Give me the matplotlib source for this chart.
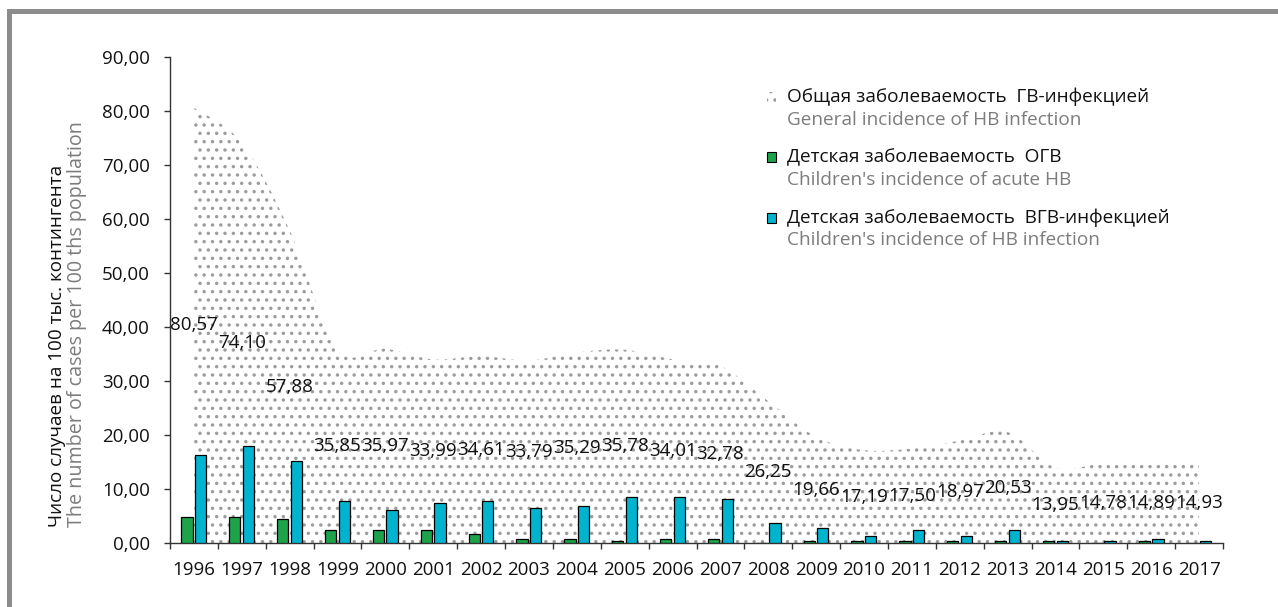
import numpy as np
import matplotlib
matplotlib.use("Agg")
import matplotlib.pyplot as plt
from matplotlib.path import Path
from matplotlib.patches import PathPatch, Rectangle

# ---------------- data ----------------
years = [str(y) for y in range(1996, 2018)]
total_incidence = [80.57, 74.10, 57.88, 35.85, 35.97, 33.99, 34.61, 33.79, 35.29, 35.78, 34.01,
                   32.78, 26.25, 19.66, 17.19, 17.50, 18.97, 20.53, 13.95, 14.78, 14.89, 14.93]
children_acute = [4.87, 4.87, 4.44, 2.35, 2.35, 2.35, 1.60, 0.74, 0.74, 0.30, 0.74,
                  0.74, 0.00, 0.30, 0.30, 0.30, 0.30, 0.30, 0.30, 0.00, 0.30, 0.00]
children_hb = [16.35, 18.00, 15.20, 7.70, 6.10, 7.35, 7.70, 6.50, 6.90, 8.60, 8.60,
               8.15, 3.65, 2.85, 1.25, 2.35, 1.25, 2.35, 0.30, 0.30, 0.75, 0.30]
y_ticks = [0, 10, 20, 30, 40, 50, 60, 70, 80, 90]

ylabel_ru = "Число случаев на 100 тыс. контингента"
ylabel_en = "The number of cases per 100 ths population"
legend_items = [
    ("Общая заболеваемость  ГВ-инфекцией", "General incidence of HB infection"),
    ("Детская заболеваемость  ОГВ", "Children's incidence of acute HB"),
    ("Детская заболеваемость  ВГВ-инфекцией", "Children's incidence of HB infection"),
]

# ---------------- style ----------------
plt.rcParams["font.family"] = ["Open Sans", "DejaVu Sans"]
plt.rcParams["hatch.linewidth"] = 1.25
GREEN = "#1ea34a"
BLUE = "#00b4cf"
DOT = "#9c9c9c"
GRAY_TXT = "#7c7c7c"
W, H = 1278, 607

fig = plt.figure(figsize=(W / 100, H / 100), dpi=100)
ax = fig.add_axes([170 / W, 1 - 543 / H, (1223 - 170) / W, (543 - 57) / H])

x = np.arange(len(years))


def smooth_area_path(xs, ys):
    pts = np.column_stack([xs, ys]).astype(float)
    n = len(pts)
    verts = [pts[0]]
    codes = [Path.MOVETO]
    for i in range(n - 1):
        p0 = pts[i - 1] if i > 0 else pts[i]
        p1 = pts[i]
        p2 = pts[i + 1]
        p3 = pts[i + 2] if i + 2 < n else pts[i + 1]
        c1 = p1 + (p2 - p0) / 6.0
        c2 = p2 - (p3 - p1) / 6.0
        verts += [c1, c2, p2]
        codes += [Path.CURVE4] * 3
    verts += [(xs[-1], 0.0), (xs[0], 0.0), pts[0]]
    codes += [Path.LINETO, Path.LINETO, Path.CLOSEPOLY]
    return Path(np.array(verts), codes)


area = PathPatch(smooth_area_path(x, total_incidence), facecolor="none",
                 edgecolor=DOT, linewidth=0, hatch="..", zorder=1)
ax.add_patch(area)

bw = 0.235
ax.bar(x - 0.145, children_acute, width=bw, color=GREEN, edgecolor="black",
       linewidth=0.9, zorder=3)
ax.bar(x + 0.14, children_hb, width=bw, color=BLUE, edgecolor="black",
       linewidth=0.9, zorder=3)

for xi, v in zip(x, total_incidence):
    ax.text(xi, v / 2, f"{v:.2f}".replace(".", ","), ha="center", va="center",
            fontsize=13.5, color="#111111", zorder=4)

ax.set_xlim(-0.5, len(years) - 0.5)
ax.set_ylim(0, 90)
ax.set_yticks(y_ticks)
ax.set_yticklabels([f"{t:.2f}".replace(".", ",") for t in y_ticks])
ax.set_xticks(x)
ax.set_xticklabels(years)
ax.set_xticks(np.arange(len(years) + 1) - 0.5, minor=True)
ax.tick_params(axis="x", which="major", length=0, pad=13, labelsize=13.5, labelcolor="#111111")
ax.tick_params(axis="x", which="minor", length=4, width=1, direction="out", color="#333333")
ax.tick_params(axis="y", length=4, width=1, direction="out", pad=10.5, labelsize=13.5,
               color="#333333", labelcolor="#111111")
for s in ["top", "right"]:
    ax.spines[s].set_visible(False)
for s in ["left", "bottom"]:
    ax.spines[s].set_color("#333333")
    ax.spines[s].set_linewidth(1.0)
ax.patch.set_alpha(0)

# y-axis titles (two lines, Russian black, English gray)
fig.text(57 / W, 1 - 527 / H, ylabel_ru, rotation=90, ha="center", va="bottom",
         fontsize=13.6, color="#111111")
fig.text(77 / W, 1 - 527 / H, ylabel_en, rotation=90, ha="center", va="bottom",
         fontsize=14.2, color=GRAY_TXT)

# legend (manual)
legend_y = [(97, 120), (157, 180), (218, 240)]
styles = [dict(facecolor="none", edgecolor=DOT, linewidth=0, hatch=".."),
          dict(facecolor=GREEN, edgecolor="black", linewidth=0.8),
          dict(facecolor=BLUE, edgecolor="black", linewidth=0.8)]
for (ru, en), (y1, y2), st in zip(legend_items, legend_y, styles):
    fig.add_artist(Rectangle((767 / W, 1 - (y1 + 5) / H), 9 / W, 10 / H,
                             transform=fig.transFigure, **st))
    fig.text(787 / W, 1 - y1 / H, ru, ha="left", va="center", fontsize=13.7, color="#111111")
    fig.text(787 / W, 1 - y2 / H, en, ha="left", va="center", fontsize=13.7, color=GRAY_TXT)

# gray frame pieces (top and left)
FRAME = "#8c8c8c"
fig.add_artist(Rectangle((7 / W, 1 - 14 / H), 1 - 7 / W, 5 / H, transform=fig.transFigure,
                         facecolor=FRAME, edgecolor="none"))
fig.add_artist(Rectangle((7 / W, 0), 5 / W, 1 - 9 / H, transform=fig.transFigure,
                         facecolor=FRAME, edgecolor="none"))

fig.savefig("out.png", dpi=100)
